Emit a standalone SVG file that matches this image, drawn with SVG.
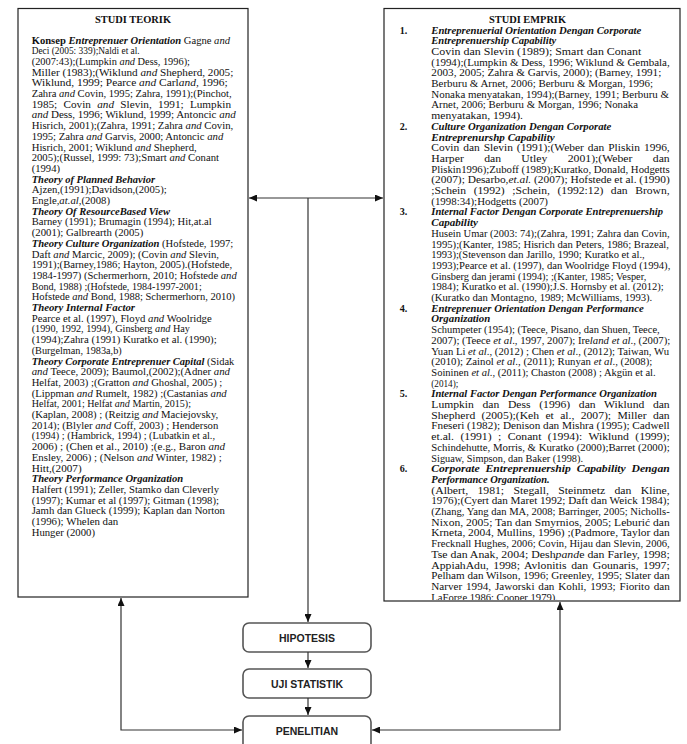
<svg xmlns="http://www.w3.org/2000/svg" width="687" height="744" viewBox="0 0 687 744">
<style>
.t text{font-family:"Liberation Serif","Times New Roman",serif;fill:#111}
.l text{font-size:9.6px}
.r text{font-size:10.1px}
.i{font-style:italic}
.bi{font-weight:bold;font-style:italic}
.b{font-weight:bold}
.ttl{font-family:"Liberation Serif","Times New Roman",serif;font-weight:bold;font-size:10.2px;fill:#111}
.box{fill:#fff;stroke:#222;stroke-width:1.2}
.pill{fill:#fff;stroke:#555;stroke-width:1.6}
.lbl{font-family:"Liberation Sans",Arial,sans-serif;font-weight:bold;font-size:10.5px;text-anchor:middle;fill:#222}
.ln{stroke:#333;stroke-width:1.2;fill:none;marker-end:url(#ah)}
.ln2{marker-start:url(#ah)}
</style>
<defs>
<marker id="ah" markerUnits="userSpaceOnUse" markerWidth="8" markerHeight="7" refX="8" refY="3.5" orient="auto-start-reverse"><path d="M0,0 L8,3.5 L0,7 z" fill="#111"/></marker>
<clipPath id="rclip"><rect x="384" y="8" width="296" height="592"/></clipPath>
</defs>
<rect width="687" height="744" fill="#fff"/>

<g id="studi-teorik">
<rect class="box" x="18" y="8.5" width="230" height="588.5"/>
<text class="ttl" x="95" y="23" textLength="76" lengthAdjust="spacingAndGlyphs">STUDI TEORIK</text>
<g class="t l">
<text x="31.7" y="43.5" textLength="198.3" lengthAdjust="spacingAndGlyphs"><tspan class="b">Konsep </tspan><tspan class="bi">Entreprenuer Orientation</tspan> Gagne <tspan class="i">and</tspan></text>
<text x="31.7" y="54.2" textLength="108" lengthAdjust="spacingAndGlyphs">Deci (2005: 339);Naldi et al.</text>
<text x="31.7" y="64.9" textLength="158.3" lengthAdjust="spacingAndGlyphs">(2007:43);(Lumpkin  <tspan class="i">and</tspan> Dess,  1996);</text>
<text x="31.7" y="75.6" textLength="201.6" lengthAdjust="spacingAndGlyphs">Miller  (1983);(Wiklund <tspan class="i">and</tspan> Shepherd, 2005;</text>
<text x="31.7" y="86.3" textLength="196" lengthAdjust="spacingAndGlyphs">Wiklund, 1999; Pearce <tspan class="i">and</tspan> Carl<tspan class="i">and</tspan>, 1996;</text>
<text x="31.7" y="97.0" textLength="200" lengthAdjust="spacingAndGlyphs">Zahra <tspan class="i">and</tspan> Covin, 1995; Zahra, 1991);(Pinchot,</text>
<text x="31.7" y="107.7" textLength="199.3" lengthAdjust="spacingAndGlyphs" word-spacing="3">1985; Covin <tspan class="i">and</tspan> Slevin, 1991; Lumpkin</text>
<text x="31.7" y="118.4" textLength="204" lengthAdjust="spacingAndGlyphs"><tspan class="i">and</tspan> Dess, 1996; Wiklund, 1999; Antoncic <tspan class="i">and</tspan></text>
<text x="31.7" y="129.1" textLength="201.6" lengthAdjust="spacingAndGlyphs">Hisrich, 2001);(Zahra, 1991; Zahra <tspan class="i">and</tspan> Covin,</text>
<text x="31.7" y="139.8" textLength="191.6" lengthAdjust="spacingAndGlyphs">1995; Zahra <tspan class="i">and</tspan> Garvis, 2000; Antoncic <tspan class="i">and</tspan></text>
<text x="31.7" y="150.5" textLength="165" lengthAdjust="spacingAndGlyphs">Hisrich, 2001; Wiklund <tspan class="i">and</tspan> Shepherd,</text>
<text x="31.7" y="161.2" textLength="187.3" lengthAdjust="spacingAndGlyphs">2005);(Russel, 1999: 73);Smart <tspan class="i">and</tspan> Conant</text>
<text x="31.7" y="171.9" textLength="28.3" lengthAdjust="spacingAndGlyphs">(1994)</text>
<text x="31.7" y="182.6" class="bi" textLength="123.3" lengthAdjust="spacingAndGlyphs">Theory of Planned Behavior</text>
<text x="31.7" y="193.3" textLength="135" lengthAdjust="spacingAndGlyphs">Ajzen,(1991);Davidson,(2005);</text>
<text x="31.7" y="204.0" textLength="78.3" lengthAdjust="spacingAndGlyphs">Engle,<tspan class="i">at.al</tspan>,(2008)</text>
<text x="31.7" y="214.7" class="bi" textLength="138.3" lengthAdjust="spacingAndGlyphs">Theory Of ResourceBased View</text>
<text x="31.7" y="225.4" textLength="180" lengthAdjust="spacingAndGlyphs">Barney (1991); Brumagin (1994); Hit,at.al</text>
<text x="31.7" y="236.1" textLength="111.6" lengthAdjust="spacingAndGlyphs">(2001); Galbrearth (2005)</text>
<text x="31.7" y="246.8" textLength="201.6" lengthAdjust="spacingAndGlyphs"><tspan class="bi">Theory Culture Organization</tspan> (Hofstede, 1997;</text>
<text x="31.7" y="257.5" textLength="187.3" lengthAdjust="spacingAndGlyphs">Daft <tspan class="i">and</tspan> Marcic, 2009); (Covin <tspan class="i">and</tspan> Slevin,</text>
<text x="31.7" y="268.2" textLength="200.6" lengthAdjust="spacingAndGlyphs">1991);(Barney,1986; Hayton, 2005).(Hofstede,</text>
<text x="31.7" y="278.9" textLength="205" lengthAdjust="spacingAndGlyphs">1984-1997) (Schermerhorn, 2010; Hofstede <tspan class="i">and</tspan></text>
<text x="31.7" y="289.6" textLength="170" lengthAdjust="spacingAndGlyphs">Bond, 1988) ;(Hofstede, 1984-1997-2001;</text>
<text x="31.7" y="300.3" textLength="203.3" lengthAdjust="spacingAndGlyphs">Hofstede <tspan class="i">and</tspan> Bond, 1988; Schermerhorn, 2010)</text>
<text x="31.7" y="311.0" class="bi" textLength="103.3" lengthAdjust="spacingAndGlyphs">Theory Internal Factor</text>
<text x="31.7" y="321.7" textLength="180" lengthAdjust="spacingAndGlyphs">Pearce et al. (1997), Floyd <tspan class="i">and</tspan> Woolridge</text>
<text x="31.7" y="332.4" textLength="158.3" lengthAdjust="spacingAndGlyphs">(1990, 1992, 1994), Ginsberg <tspan class="i">and</tspan> Hay</text>
<text x="31.7" y="343.1" textLength="185" lengthAdjust="spacingAndGlyphs">(1994);Zahra (1991) Kuratko et al. (1990);</text>
<text x="31.7" y="353.8" textLength="90" lengthAdjust="spacingAndGlyphs">(Burgelman, 1983a,b)</text>
<text x="31.7" y="364.5" textLength="202.6" lengthAdjust="spacingAndGlyphs"><tspan class="bi">Theory Corporate Entreprenuer Capital</tspan> (Sidak</text>
<text x="31.7" y="375.2" textLength="198.3" lengthAdjust="spacingAndGlyphs"><tspan class="i">and</tspan> Teece, 2009); Baumol,(2002);(Adner <tspan class="i">and</tspan></text>
<text x="31.7" y="385.9" textLength="190.6" lengthAdjust="spacingAndGlyphs">Helfat, 2003) ;(Gratton <tspan class="i">and</tspan> Ghoshal, 2005) ;</text>
<text x="31.7" y="396.6" textLength="195" lengthAdjust="spacingAndGlyphs">(Lippman <tspan class="i">and</tspan> Rumelt, 1982) ;(Castanias <tspan class="i">and</tspan></text>
<text x="31.7" y="407.3" textLength="159.3" lengthAdjust="spacingAndGlyphs">Helfat, 2001; Helfat <tspan class="i">and</tspan> Martin, 2015);</text>
<text x="31.7" y="418.0" textLength="186.6" lengthAdjust="spacingAndGlyphs">(Kaplan, 2008) ; (Reitzig <tspan class="i">and</tspan> Maciejovsky,</text>
<text x="31.7" y="428.7" textLength="186.6" lengthAdjust="spacingAndGlyphs">2014); (Blyler <tspan class="i">and</tspan> Coff, 2003) ; Henderson</text>
<text x="31.7" y="439.4" textLength="183.3" lengthAdjust="spacingAndGlyphs">(1994) ; (Hambrick, 1994) ; (Lubatkin et al.,</text>
<text x="31.7" y="450.1" textLength="193.3" lengthAdjust="spacingAndGlyphs">2006) ; (Chen et al., 2010) ;(e.g., Baron <tspan class="i">and</tspan></text>
<text x="31.7" y="460.8" textLength="190" lengthAdjust="spacingAndGlyphs">Ensley, 2006) ; (Nelson <tspan class="i">and</tspan> Winter, 1982) ;</text>
<text x="31.7" y="471.5" textLength="50" lengthAdjust="spacingAndGlyphs">Hitt,(2007)</text>
<text x="31.7" y="482.2" class="bi" textLength="151.6" lengthAdjust="spacingAndGlyphs">Theory Performance Organization</text>
<text x="31.7" y="492.9" textLength="187.3" lengthAdjust="spacingAndGlyphs">Halfert (1991); Zeller, Stamko dan Cleverly</text>
<text x="31.7" y="503.6" textLength="187.3" lengthAdjust="spacingAndGlyphs">(1997); Kumar et al (1997); Gitman (1998);</text>
<text x="31.7" y="514.3" textLength="193.3" lengthAdjust="spacingAndGlyphs">Jamh dan Glueck (1999); Kaplan dan Norton</text>
<text x="31.7" y="525.0" textLength="86.6" lengthAdjust="spacingAndGlyphs">(1996); Whelen dan</text>
<text x="31.7" y="535.7" textLength="63.3" lengthAdjust="spacingAndGlyphs">Hunger (2000)</text>
</g>
</g>

<g id="studi-emprik">
<rect class="box" x="384" y="8.5" width="296" height="592.5"/>
<text class="ttl" x="489" y="23" textLength="77" lengthAdjust="spacingAndGlyphs">STUDI EMPRIK</text>
<g class="t r" clip-path="url(#rclip)">
<text x="399.7" y="33.5" class="b">1.</text>
<text x="431.3" y="33.5" class="bi" textLength="210" lengthAdjust="spacingAndGlyphs">Entreprenuerial Orientation Dengan Corporate</text>
<text x="431.3" y="44.2" class="bi" textLength="125" lengthAdjust="spacingAndGlyphs">Entreprenuership Capability</text>
<text x="431.3" y="54.9" textLength="210" lengthAdjust="spacingAndGlyphs">Covin dan Slevin (1989); Smart dan Conant</text>
<text x="431.3" y="65.6" textLength="238.4" lengthAdjust="spacingAndGlyphs">(1994);(Lumpkin &amp; Dess, 1996; Wiklund &amp; Gembala,</text>
<text x="431.3" y="76.3" textLength="230" lengthAdjust="spacingAndGlyphs">2003, 2005; Zahra &amp; Garvis, 2000); (Barney, 1991;</text>
<text x="431.3" y="87.0" textLength="221.7" lengthAdjust="spacingAndGlyphs">Berburu &amp; Arnet, 2006; Berburu &amp; Morgan, 1996;</text>
<text x="431.3" y="97.7" textLength="237.7" lengthAdjust="spacingAndGlyphs">Nonaka menyatakan, 1994);(Barney, 1991; Berburu &amp;</text>
<text x="431.3" y="108.4" textLength="206.7" lengthAdjust="spacingAndGlyphs">Arnet, 2006; Berburu &amp; Morgan, 1996; Nonaka</text>
<text x="431.3" y="119.1" textLength="91.7" lengthAdjust="spacingAndGlyphs">menyatakan, 1994).</text>
<text x="399.7" y="129.8" class="b">2.</text>
<text x="431.3" y="129.8" class="bi" textLength="180" lengthAdjust="spacingAndGlyphs">Culture Organization Dengan Corporate</text>
<text x="431.3" y="140.5" class="bi" textLength="123.4" lengthAdjust="spacingAndGlyphs">Entreprenurshp Capability</text>
<text x="431.3" y="151.2" textLength="238.4" lengthAdjust="spacingAndGlyphs" word-spacing="1">Covin dan Slevin (1991);(Weber dan Pliskin 1996,</text>
<text x="431.3" y="161.9" textLength="238.4" lengthAdjust="spacingAndGlyphs" word-spacing="15">Harper dan Utley 2001);(Weber dan</text>
<text x="431.3" y="172.6" textLength="238.4" lengthAdjust="spacingAndGlyphs">Pliskin1996);Zuboff (1989);Kuratko, Donald, Hodgetts</text>
<text x="431.3" y="183.3" textLength="238.4" lengthAdjust="spacingAndGlyphs">(2007); Desarbo,<tspan class="i">et.al.</tspan> (2007); Hofstede et al. (1990)</text>
<text x="431.3" y="194.0" textLength="238.4" lengthAdjust="spacingAndGlyphs" word-spacing="4">;Schein (1992) ;Schein, (1992:12) dan Brown,</text>
<text x="431.3" y="204.7" textLength="116.7" lengthAdjust="spacingAndGlyphs">(1998:34);Hodgetts (2007)</text>
<text x="399.7" y="215.4" class="b">3.</text>
<text x="431.3" y="215.4" class="bi" textLength="231.7" lengthAdjust="spacingAndGlyphs">Internal Factor Dengan Corporate Entreprenuership</text>
<text x="431.3" y="226.1" class="bi" textLength="46.7" lengthAdjust="spacingAndGlyphs">Capability</text>
<text x="431.3" y="236.8" textLength="238.4" lengthAdjust="spacingAndGlyphs">Husein Umar (2003: 74);(Zahra, 1991; Zahra dan Covin,</text>
<text x="431.3" y="247.5" textLength="237.7" lengthAdjust="spacingAndGlyphs">1995);(Kanter, 1985; Hisrich dan Peters, 1986; Brazeal,</text>
<text x="431.3" y="258.2" textLength="213.4" lengthAdjust="spacingAndGlyphs">1993);(Stevenson dan Jarillo, 1990; Kuratko et al.,</text>
<text x="431.3" y="268.9" textLength="239" lengthAdjust="spacingAndGlyphs">1993);Pearce et al. (1997), dan Woolridge Floyd (1994),</text>
<text x="431.3" y="279.6" textLength="215" lengthAdjust="spacingAndGlyphs">Ginsberg dan jerami (1994); ;(Kanter, 1985; Vesper,</text>
<text x="431.3" y="290.3" textLength="232.4" lengthAdjust="spacingAndGlyphs">1984); Kuratko et al. (1990);J.S. Hornsby et al. (2012);</text>
<text x="431.3" y="301.0" textLength="221" lengthAdjust="spacingAndGlyphs">(Kuratko dan Montagno, 1989; McWilliams, 1993).</text>
<text x="399.7" y="311.7" class="b">4.</text>
<text x="431.3" y="311.7" class="bi" textLength="212.4" lengthAdjust="spacingAndGlyphs">Entreprenuer Orientation Dengan Performance</text>
<text x="431.3" y="322.4" class="bi" textLength="59" lengthAdjust="spacingAndGlyphs">Organization</text>
<text x="431.3" y="333.1" textLength="228.4" lengthAdjust="spacingAndGlyphs">Schumpeter (1954); (Teece, Pisano, dan Shuen, Teece,</text>
<text x="431.3" y="343.8" textLength="239" lengthAdjust="spacingAndGlyphs">2007); (Teece <tspan class="i">et al</tspan>., 1997, 2007); Ire<tspan class="i">land et al</tspan>., (2007);</text>
<text x="431.3" y="354.5" textLength="237.7" lengthAdjust="spacingAndGlyphs">Yuan Li <tspan class="i">et al</tspan>., (2012) ; Chen <tspan class="i">et al</tspan>., (2012); Taiwan, Wu</text>
<text x="431.3" y="365.2" textLength="221" lengthAdjust="spacingAndGlyphs">(2010); Zainol <tspan class="i">et al</tspan>., (2011); Runyan <tspan class="i">et al</tspan>., (2008);</text>
<text x="431.3" y="375.9" textLength="224.4" lengthAdjust="spacingAndGlyphs">Soininen <tspan class="i">et al</tspan>., (2011); Chaston (2008) ; Akgün et al.</text>
<text x="431.3" y="386.6" textLength="27" lengthAdjust="spacingAndGlyphs">(2014);</text>
<text x="399.7" y="397.3" class="b">5.</text>
<text x="431.3" y="397.3" class="bi" textLength="225.7" lengthAdjust="spacingAndGlyphs">Internal Factor Dengan Performance Organization</text>
<text x="431.3" y="408.0" textLength="238.4" lengthAdjust="spacingAndGlyphs" word-spacing="5">Lumpkin dan Dess (1996) dan Wiklund dan</text>
<text x="431.3" y="418.7" textLength="238.4" lengthAdjust="spacingAndGlyphs" word-spacing="3">Shepherd (2005);(Keh et al., 2007); Miller dan</text>
<text x="431.3" y="429.4" textLength="238.4" lengthAdjust="spacingAndGlyphs">Fneseri (1982); Denison dan Mishra (1995); Cadwell</text>
<text x="431.3" y="440.1" textLength="238.4" lengthAdjust="spacingAndGlyphs" word-spacing="3">et.al. (1991) ; Conant (1994): Wiklund (1999);</text>
<text x="431.3" y="450.8" textLength="238.4" lengthAdjust="spacingAndGlyphs">Schindehutte, Morris, &amp; Kuratko (2000);Barret (2000);</text>
<text x="431.3" y="461.5" textLength="151.7" lengthAdjust="spacingAndGlyphs">Siguaw, Simpson, dan Baker (1998).</text>
<text x="399.7" y="472.2" class="b">6.</text>
<text x="431.3" y="472.2" class="bi" textLength="238.4" lengthAdjust="spacingAndGlyphs" word-spacing="2.5">Corporate Entreprenuership Capability Dengan</text>
<text x="431.3" y="482.9" class="bi" textLength="118.4" lengthAdjust="spacingAndGlyphs">Performance Organization.</text>
<text x="431.3" y="493.6" textLength="238.4" lengthAdjust="spacingAndGlyphs" word-spacing="5.5">(Albert, 1981; Stegall, Steinmetz dan Kline,</text>
<text x="431.3" y="504.3" textLength="238.4" lengthAdjust="spacingAndGlyphs">1976);(Cyert dan Maret 1992; Daft dan Weick 1984);</text>
<text x="431.3" y="515.0" textLength="238.4" lengthAdjust="spacingAndGlyphs">(Zhang, Yang dan MA, 2008; Barringer, 2005; Nicholls-</text>
<text x="431.3" y="525.7" textLength="238.4" lengthAdjust="spacingAndGlyphs">Nixon, 2005; Tan dan Smyrnios, 2005; Leburić dan</text>
<text x="431.3" y="536.4" textLength="238.4" lengthAdjust="spacingAndGlyphs">Krneta, 2004, Mullins, 1996) ;(Padmore, Taylor dan</text>
<text x="431.3" y="547.1" textLength="238.4" lengthAdjust="spacingAndGlyphs">Frecknall Hughes, 2006; Covin, Hijau dan Slevin, 2006,</text>
<text x="431.3" y="557.8" textLength="238.4" lengthAdjust="spacingAndGlyphs">Tse dan Anak, 2004; Desh<tspan class="i">pand</tspan>e dan Farley, 1998;</text>
<text x="431.3" y="568.5" textLength="238.4" lengthAdjust="spacingAndGlyphs" word-spacing="1.5">AppiahAdu, 1998; Avlonitis dan Gounaris, 1997;</text>
<text x="431.3" y="579.2" textLength="238.4" lengthAdjust="spacingAndGlyphs">Pelham dan Wilson, 1996; Greenley, 1995; Slater dan</text>
<text x="431.3" y="589.9" textLength="238.4" lengthAdjust="spacingAndGlyphs" word-spacing="1">Narver 1994, Jaworski dan Kohli, 1993; Fiorito dan</text>
<text x="431.3" y="600.6" textLength="126.7" lengthAdjust="spacingAndGlyphs">LaForge 1986; Cooper 1979).</text>
</g>
</g>

<g id="hipotesis">
<rect class="pill" x="243" y="623" width="128" height="29" rx="6"/>
<text class="lbl" x="307" y="641.5">HIPOTESIS</text>
</g>
<g id="uji-statistik">
<rect class="pill" x="243" y="669" width="128" height="29" rx="6"/>
<text class="lbl" x="307" y="687.5">UJI STATISTIK</text>
</g>
<g id="penelitian">
<rect class="pill" x="243" y="716" width="128" height="34" rx="6"/>
<text class="lbl" x="307" y="734.5">PENELITIAN</text>
</g>

<g id="connectors">
<path class="ln ln2" d="M249,198 H383"/>
<path class="ln" d="M308,198 V622"/>
<path class="ln" d="M308,652 V668"/>
<path class="ln" d="M308,698 V715"/>
<path class="ln ln2" d="M242,730 H121 V598"/>
<path class="ln ln2" d="M372,730 H560 V602"/>
</g>
</svg>
